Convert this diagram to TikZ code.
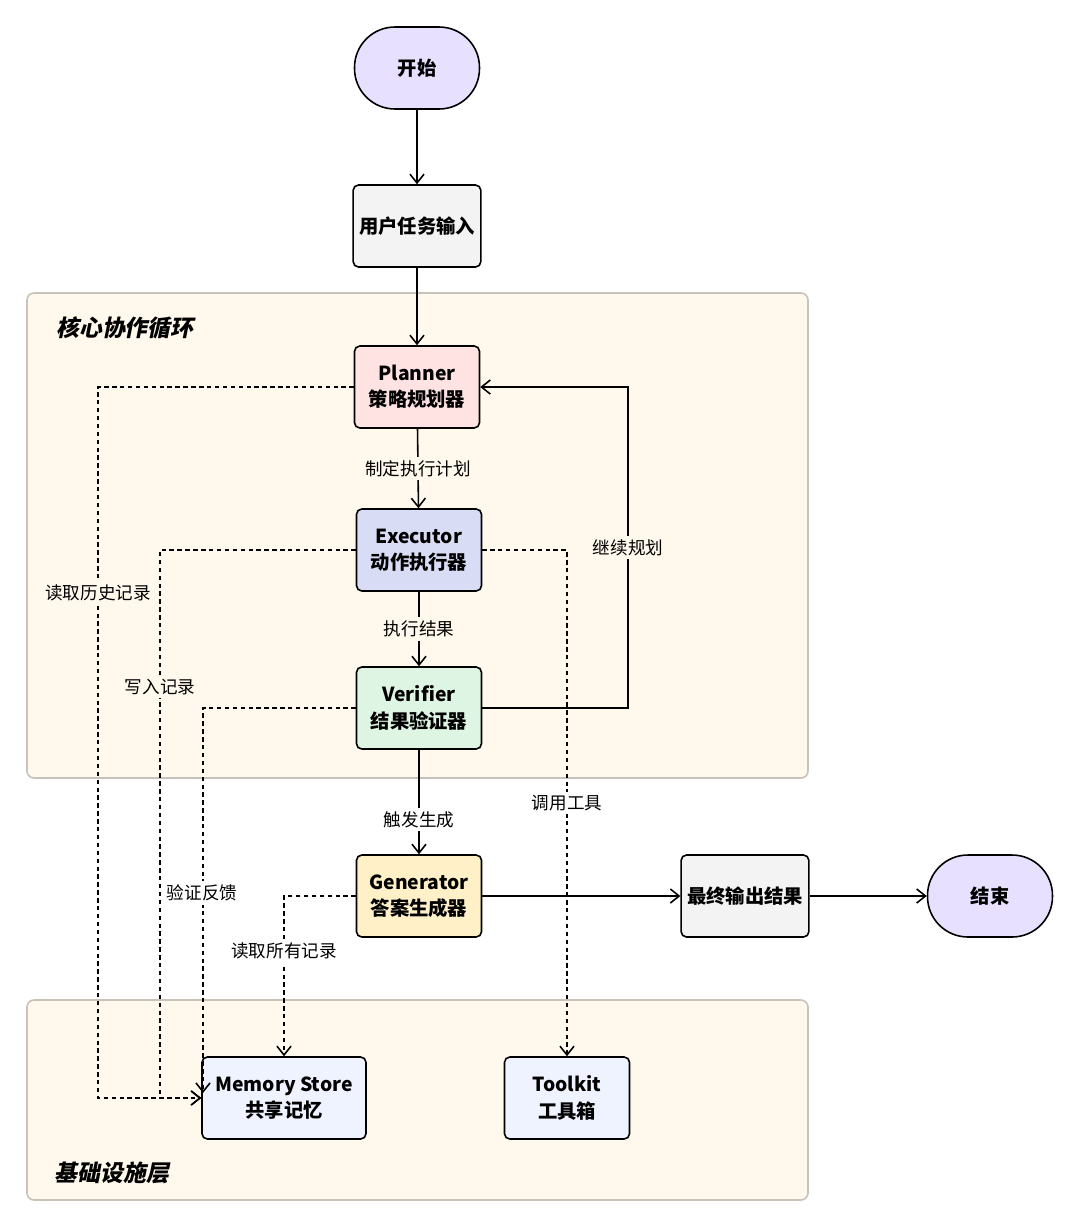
\documentclass[tikz,border=0pt]{standalone}
\usepackage{fontspec}
\setmainfont{Noto Sans CJK SC}
\newfontfamily\slcjk{Noto Sans CJK SC}[FakeSlant=0.2]
\usetikzlibrary{arrows.meta}
\definecolor{grpbg}{HTML}{FFF8EC}
\definecolor{grpln}{HTML}{C8C2B8}
\definecolor{cStart}{HTML}{E8E0FF}
\definecolor{cGray}{HTML}{F3F3F3}
\definecolor{cPl}{HTML}{FFE2E2}
\definecolor{cEx}{HTML}{D8DCF5}
\definecolor{cVe}{HTML}{DFF5E3}
\definecolor{cGe}{HTML}{FFF0C8}
\definecolor{cMem}{HTML}{EEF3FF}
\begin{document}
\begin{tikzpicture}[x=0.02cm,y=-0.02cm,
 box/.style={draw=black,line width=0.9pt,rounded corners=3pt,minimum width=2.5cm,minimum height=1.64cm,align=center,font=\fontsize{11}{15}\selectfont\bfseries},
 term/.style={box,rounded corners=23pt},
 grp/.style={draw=grpln,fill=grpbg,line width=0.9pt,rounded corners=4pt},
 ar/.style={-{Straight Barb[length=5pt,width=8pt]},line width=0.9pt},
 da/.style={ar,dash pattern=on 2.5pt off 2pt},
 lbl/.style={font=\fontsize{10}{12}\selectfont,inner sep=2pt},
 glbl/.style={font=\slcjk\fontsize{13}{15}\selectfont\bfseries}]
\useasboundingbox (0,0) rectangle (1080,1228);
\draw[grp] (27,293) rectangle (808,778);
\draw[grp] (27,1000) rectangle (808,1200);
\node[glbl] (g1) at (125,328) {核心协作循环};
\node[glbl] (g2) at (112,1173) {基础设施层};
\node[term,fill=cStart] (start) at (417,68) {开始};
\node[box,fill=cGray] (input) at (417,226) {用户任务输入};
\node[box,fill=cPl] (pl) at (417,387) {Planner\\策略规划器};
\node[box,fill=cEx] (ex) at (419,550) {Executor\\动作执行器};
\node[box,fill=cVe] (ve) at (419,708) {Verifier\\结果验证器};
\node[box,fill=cGe] (ge) at (419,896) {Generator\\答案生成器};
\node[box,fill=cGray] (out) at (745,896) {最终输出结果};
\node[term,fill=cStart] (end) at (990,896) {结束};
\node[box,fill=cMem,minimum width=3.28cm] (mem) at (284,1098) {Memory Store\\共享记忆};
\node[box,fill=cMem] (tk) at (567,1098) {Toolkit\\工具箱};
\draw[ar] (start) -- (input);
\draw[ar] (input) -- (pl);
\draw[ar] (pl) -- node[lbl,fill=grpbg] {制定执行计划} (ex);
\draw[ar] (ex) -- node[lbl,fill=grpbg] {执行结果} (ve);
\draw[ar] (ve) -- node[lbl,fill=white,pos=0.67] {触发生成} (ge);
\coordinate (c1) at (628,708);
\draw[ar] (ve.east) -- (c1) |- node[lbl,fill=grpbg,pos=0.25] {继续规划} (pl.east);
\draw[ar] (ge) -- (out);
\draw[ar] (out) -- (end);
\draw[da] (pl.west) -| (98,1098) -- (mem.west);
\node[lbl,fill=grpbg] (l1) at (98,593) {读取历史记录};
\draw[da] (ex.west) -| (160,1098) -- (mem.west);
\node[lbl,fill=grpbg] (l2) at (160,687) {写入记录};
\coordinate (m3) at (203,1093);
\draw[da] (ve.west) -| (m3);
\node[lbl,fill=white] (l3) at (202,893) {验证反馈};
\draw[da] (ex.east) -| (tk.north);
\node[lbl,fill=white] (l4) at (567,803) {调用工具};
\draw[da] (ge.west) -| (mem.north);
\node[lbl,fill=white] (l5) at (284,951) {读取所有记录};
\end{tikzpicture}
\end{document}
